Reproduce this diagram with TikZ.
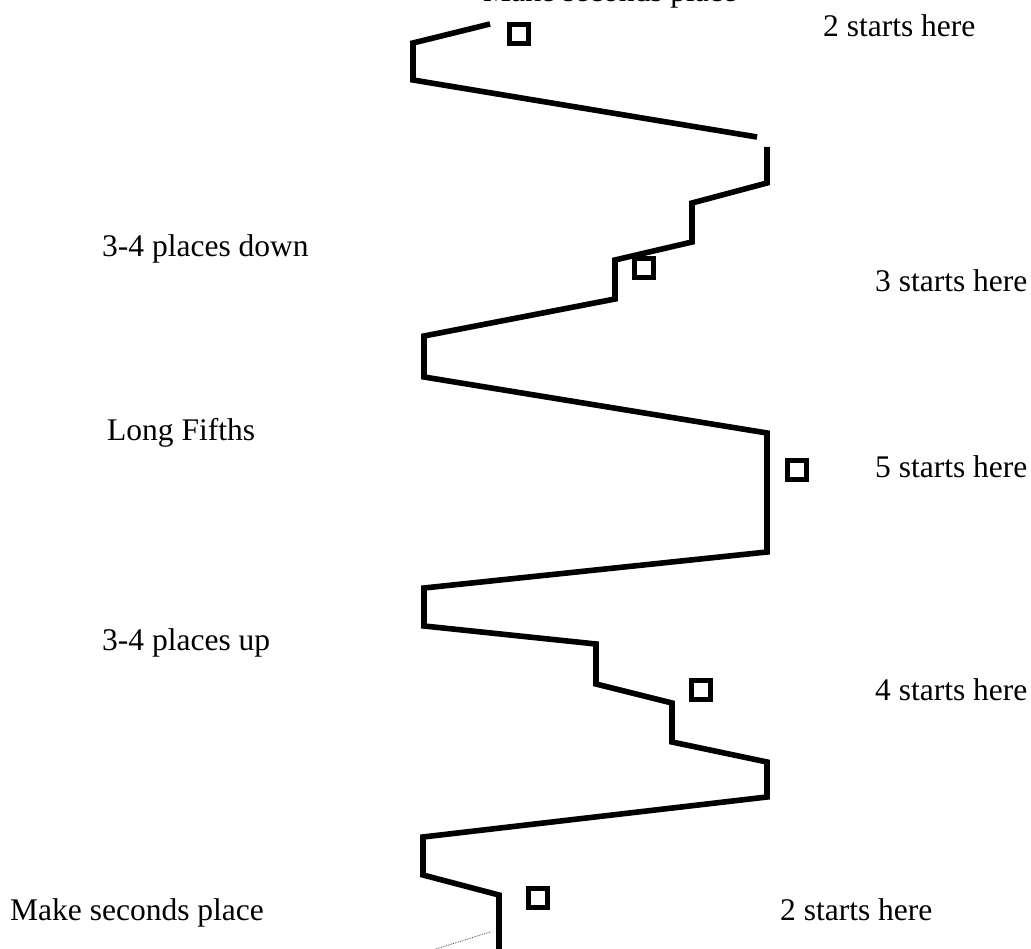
\documentclass[tikz,border=0pt]{standalone}
\usepackage{fontspec}
\setmainfont{Liberation Serif}
\begin{document}
\begin{tikzpicture}[x=1pt,y=-1pt,
  lbl/.style={anchor=base west,inner sep=0pt,font=\fontsize{31.5}{36}\selectfont},
  mark box/.style={draw,line width=4.8pt,minimum size=18.5pt,inner sep=0pt,outer sep=0pt},
  zig/.style={line width=5.6pt,line join=miter},
  guide/.style={line width=0.8pt,densely dotted,black!70}]
\useasboundingbox (0,0) rectangle (1031,949);
% labels
\node[lbl] (tms) at (483,1.5) {Make seconds place};
\node[lbl] (t2a) at (823,37) {2 starts here};
\node[lbl] (t34d) at (102,257) {3-4 places down};
\node[lbl] (t3) at (875,292) {3 starts here};
\node[lbl] (tlf) at (107,441) {Long Fifths};
\node[lbl] (t5) at (875,477) {5 starts here};
\node[lbl] (t34u) at (102,650) {3-4 places up};
\node[lbl] (t4) at (875,700) {4 starts here};
\node[lbl] (bms) at (10,920) {Make seconds place};
\node[lbl] (t2b) at (780,920) {2 starts here};
% start boxes
\node[mark box] (b1) at (519,34) {};
\node[mark box] (b2) at (644,268) {};
\node[mark box] (b3) at (797,470) {};
\node[mark box] (b4) at (701,690) {};
\node[mark box] (b5) at (538,898) {};
% zigzag
\draw[zig] (490,24) -- (413,43) -- (413,80) -- (757,137);
\draw[zig] (767,147) -- (767,183) -- (692,203) -- (692,242) -- (615,260)
  -- (615,299) -- (424,336) -- (424,377) -- (767,433) -- (767,552)
  -- (424,588) -- (424,626) -- (596,644) -- (596,684) -- (672,703)
  -- (672,742) -- (767,762) -- (767,797) -- (423,837) -- (423,875)
  -- (499,895) -- (499,952);
% dotted guide
\coordinate (g1) at (490,932);
\coordinate (g2) at (420,954);
\draw[guide] (g1) -- (g2);
\end{tikzpicture}
\end{document}
